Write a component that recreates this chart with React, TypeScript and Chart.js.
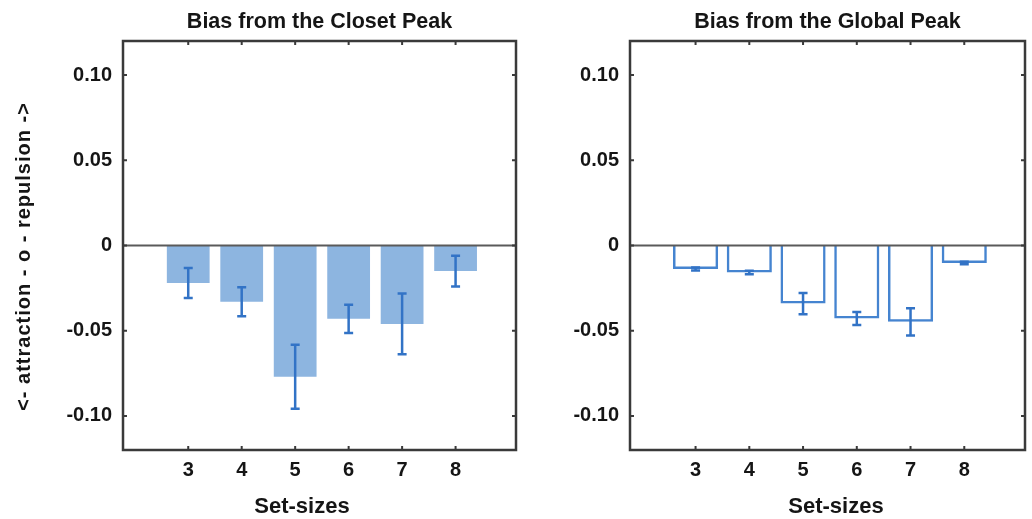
import React, { useEffect, useRef } from 'react';
import { Chart, registerables } from 'chart.js';

Chart.register(...registerables);

// Set sizes shown on the x axis
const setSizes = [3, 4, 5, 6, 7, 8];

// Bias from the closest peak (mean and error per set size)
const closestBias = [-0.022, -0.033, -0.077, -0.043, -0.046, -0.015];
const closestErr = [0.0088, 0.0085, 0.0188, 0.0083, 0.0178, 0.009];

// Bias from the global peak (mean and error per set size)
const globalBias = [-0.0138, -0.0158, -0.0341, -0.0428, -0.0448, -0.0103];
const globalErr = [0.0009, 0.001, 0.0062, 0.0038, 0.008, 0.0007];

const yTicks = [-0.1, -0.05, 0, 0.05, 0.1];
const yTickLabels = ['-0.10', '-0.05', '0', '0.05', '0.10'];

const panelTitles = ['Bias from the Closet Peak', 'Bias from the Global Peak'];
const xAxisTitle = 'Set-sizes';
const yAxisTitle = '<- attraction - o - repulsion ->';

const FONT = '"Liberation Sans", Arial, Helvetica, sans-serif';
const TEXT = '#151515';
const FRAME = '#3a3a3a';

// Draws the zero line, error bars, boxed frame with inward tick marks and the axis titles
const panelDecor = {
  id: 'panelDecor',
  afterDatasetsDraw(chart: any, _args: any, opts: any) {
    const { ctx, chartArea: a } = chart;
    const x = chart.scales.x;
    const y = chart.scales.y;
    ctx.save();
    // zero line
    const y0 = y.getPixelForValue(0);
    ctx.strokeStyle = '#5a5a5a';
    ctx.lineWidth = 2;
    ctx.beginPath();
    ctx.moveTo(a.left, y0);
    ctx.lineTo(a.right, y0);
    ctx.stroke();
    // error bars
    const values: number[] = opts.values;
    const errs: number[] = opts.errors;
    ctx.strokeStyle = opts.errColor;
    ctx.lineWidth = 2.5;
    const cap = 4.5;
    setSizes.forEach((s, i) => {
      const cx = x.getPixelForValue(s);
      const yt = y.getPixelForValue(values[i] + errs[i]);
      const yb = y.getPixelForValue(values[i] - errs[i]);
      ctx.beginPath();
      ctx.moveTo(cx, yt);
      ctx.lineTo(cx, yb);
      ctx.moveTo(cx - cap, yt);
      ctx.lineTo(cx + cap, yt);
      ctx.moveTo(cx - cap, yb);
      ctx.lineTo(cx + cap, yb);
      ctx.stroke();
    });
    ctx.restore();
  },
  afterDraw(chart: any, _args: any, opts: any) {
    const { ctx, chartArea: a } = chart;
    const x = chart.scales.x;
    const y = chart.scales.y;
    ctx.save();
    ctx.strokeStyle = FRAME;
    ctx.lineWidth = 2.5;
    ctx.strokeRect(a.left, a.top, a.right - a.left, a.bottom - a.top);
    // inward tick marks
    const tl = 4;
    ctx.lineWidth = 2;
    ctx.beginPath();
    setSizes.forEach((s) => {
      const px = x.getPixelForValue(s);
      ctx.moveTo(px, a.top);
      ctx.lineTo(px, a.top + tl);
      ctx.moveTo(px, a.bottom);
      ctx.lineTo(px, a.bottom - tl);
    });
    yTicks.forEach((v) => {
      const py = y.getPixelForValue(v);
      ctx.moveTo(a.left, py);
      ctx.lineTo(a.left + tl, py);
      ctx.moveTo(a.right, py);
      ctx.lineTo(a.right - tl, py);
    });
    ctx.stroke();
    // x axis title
    ctx.fillStyle = TEXT;
    ctx.font = `bold 22px ${FONT}`;
    ctx.textAlign = 'center';
    ctx.textBaseline = 'alphabetic';
    ctx.fillText(xAxisTitle, opts.xTitleX, 513);
    // side title
    if (opts.sideTitle) {
      ctx.translate(29.5, 256.5);
      ctx.rotate(-Math.PI / 2);
      ctx.font = `bold 20px ${FONT}`;
      (ctx as any).letterSpacing = '1px';
      ctx.textAlign = 'center';
      ctx.textBaseline = 'alphabetic';
      ctx.fillText(opts.sideTitle, 0, 0);
    }
    ctx.restore();
  },
};

interface PanelProps {
  width: number;
  height: number;
  title: string;
  values: number[];
  errors: number[];
  filled: boolean;
  barPct: number;
  yAxisWidth: number;
  rightPad: number;
  xTitleX: number;
  sideTitle?: string;
}

function Panel(props: PanelProps) {
  const ref = useRef<HTMLCanvasElement | null>(null);
  useEffect(() => {
    if (!ref.current) return;
    const p = props;
    const chart = new Chart(ref.current, {
      type: 'bar',
      data: {
        datasets: [
          {
            data: setSizes.map((s, i) => ({ x: s, y: p.values[i] })),
            backgroundColor: p.filled ? '#8db5e0' : 'rgba(255,255,255,0)',
            borderColor: p.filled ? 'rgba(0,0,0,0)' : '#4584d0',
            borderWidth: p.filled ? 0 : 2.5,
            barPercentage: p.barPct,
            categoryPercentage: 1,
          } as any,
        ],
      },
      options: {
        animation: false,
        responsive: false,
        layout: { padding: { left: 0, right: p.rightPad, top: 0, bottom: 0 } },
        plugins: {
          legend: { display: false },
          tooltip: { enabled: false },
          title: {
            display: true,
            text: p.title,
            fullSize: false,
            color: TEXT,
            font: { family: FONT, size: 21.5, weight: 'bold', lineHeight: 1.2 },
            padding: { top: 9, bottom: 6.2 },
          },
          panelDecor: {
            values: p.values,
            errors: p.errors,
            errColor: '#3273c6',
            sideTitle: p.sideTitle,
            xTitleX: p.xTitleX,
          },
        } as any,
        scales: {
          x: {
            type: 'linear',
            min: 1.78,
            max: 9.13,
            offset: false,
            grid: { display: false, drawTicks: false, offset: false },
            border: { display: false },
            afterBuildTicks: (s: any) => {
              s.ticks = setSizes.map((v) => ({ value: v }));
            },
            afterFit: (s: any) => {
              s.height = 69;
            },
            ticks: {
              color: TEXT,
              font: { family: FONT, size: 20, weight: 'bold' },
              padding: 8,
              callback: (v: any) => String(v),
            },
          },
          y: {
            min: -0.12,
            max: 0.12,
            grid: { display: false, drawTicks: false },
            border: { display: false },
            afterBuildTicks: (s: any) => {
              s.ticks = yTicks.map((v) => ({ value: v }));
            },
            afterFit: (s: any) => {
              s.width = p.yAxisWidth;
            },
            ticks: {
              color: TEXT,
              font: { family: FONT, size: 20, weight: 'bold' },
              padding: 11,
              callback: (v: any) => {
                const i = yTicks.findIndex((t) => Math.abs(t - v) < 1e-9);
                return i >= 0 ? yTickLabels[i] : '';
              },
            },
          },
        } as any,
      },
      plugins: [panelDecor],
    });
    return () => chart.destroy();
  }, []);
  return (
    <canvas
      ref={ref}
      width={props.width}
      height={props.height}
      style={{ width: props.width, height: props.height, display: 'block' }}
    />
  );
}

export default function App() {
  return (
    <div style={{ position: 'absolute', left: 0, top: 0, width: 1032, height: 519, background: '#fff' }}>
      <div style={{ position: 'absolute', left: 0, top: 0 }}>
        <Panel
          width={520}
          height={519}
          title={panelTitles[0]}
          values={closestBias}
          errors={closestErr}
          filled={true}
          barPct={0.8}
          yAxisWidth={123}
          rightPad={4}
          xTitleX={302}
          sideTitle={yAxisTitle}
        />
      </div>
      <div style={{ position: 'absolute', left: 520, top: 0 }}>
        <Panel
          width={512}
          height={519}
          title={panelTitles[1]}
          values={globalBias}
          errors={globalErr}
          filled={false}
          barPct={0.84}
          yAxisWidth={110}
          rightPad={7}
          xTitleX={316}
        />
      </div>
    </div>
  );
}
